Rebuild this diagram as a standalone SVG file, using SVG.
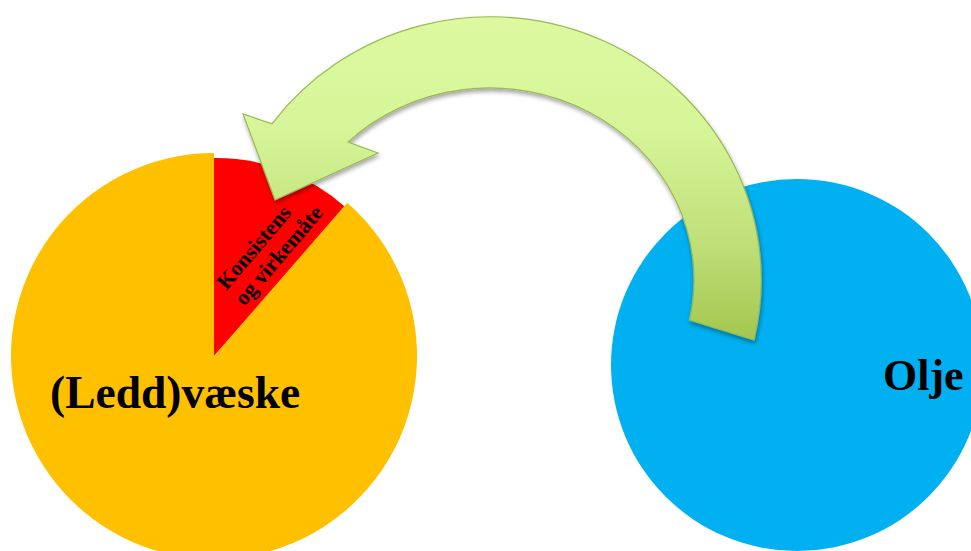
<svg xmlns="http://www.w3.org/2000/svg" width="971" height="551" viewBox="0 0 971 551">
  <defs>
    <linearGradient id="arrowGrad" gradientUnits="userSpaceOnUse" x1="0" y1="17" x2="0" y2="342">
      <stop offset="0" stop-color="#dcf9a0"/>
      <stop offset="0.35" stop-color="#d6f598"/>
      <stop offset="0.7" stop-color="#bfdf78"/>
      <stop offset="1" stop-color="#a2c64f"/>
    </linearGradient>
    <filter id="shadow" x="-10%" y="-10%" width="120%" height="130%">
      <feDropShadow dx="1" dy="3" stdDeviation="2" flood-color="#000" flood-opacity="0.35"/>
    </filter>
    <style>
      .label { font-family: "Liberation Serif", "Times New Roman", serif; font-weight: bold; fill: #000; }
      .big { font-size: 45.5px; }
      .olje { font-size: 44px; }
      .small { font-size: 22px; }
    </style>
  </defs>

  <g id="node-ledd">
    <path d="M214,356 L212.6,158 A195,195 0 0 1 346.5,208.1 Z" fill="#ff0000"/>
    <path d="M214,356 L347.2,202.8 A203,203 0 1 1 214,153 Z" fill="#ffc000"/>
    <text class="label big" x="50" y="408">(Ledd)væske</text>
    <g transform="translate(266.5,251.5) rotate(-49.5)">
      <text class="label small" x="-5" y="-5" text-anchor="middle">Konsistens</text>
      <text class="label small" x="5" y="19" text-anchor="middle">og virkemåte</text>
    </g>
  </g>

  <g id="node-olje">
    <circle cx="797" cy="365" r="186" fill="#00b0f0"/>
    <text class="label olje" x="883" y="390">Olje</text>
  </g>

  <g id="connectors">
    <path d="M754,340 A271,263 0 0 0 272,123.8 L243,114 L275,200 L378,153 L348,142.1 A204,192 0 0 1 689.5,320 Z"
          fill="url(#arrowGrad)" stroke="#98b954" stroke-width="1.2" stroke-linejoin="miter" filter="url(#shadow)"/>
  </g>
</svg>
